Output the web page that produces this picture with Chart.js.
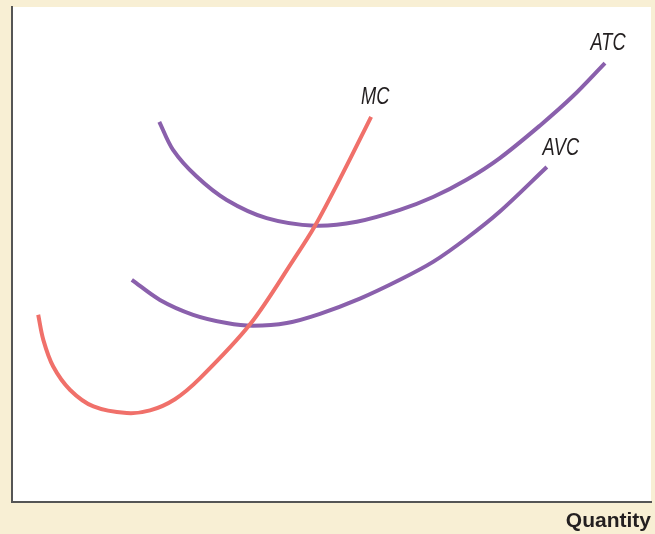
<!DOCTYPE html>
<html>
<head>
<meta charset="utf-8">
<script src="https://cdn.jsdelivr.net/npm/chart.js@4/dist/chart.umd.min.js"></script>
<style>
  html, body { margin: 0; padding: 0; background: #f8efd4; }
  #wrap { width: 655px; height: 534px; }
</style>
</head>
<body>
<div id="wrap"><canvas id="myChart" width="655" height="534"></canvas></div>
<script>
// quantity / cost readings for each curve
var mcQty  = [0.82, 0.98, 1.29, 1.82, 2.55, 3.59, 4.32, 5.10, 5.88, 7.45, 8.80, 9.48, 10.36, 11.24];
var mcCost = [5.67, 4.91, 4.10, 3.39, 2.89, 2.69, 2.77, 3.11, 3.74, 5.38, 7.32, 8.36, 9.97, 11.67];

var atcQty  = [4.61, 5.04, 5.78, 6.72, 7.97, 9.48, 10.79, 12.14, 13.18, 14.24, 15.27, 16.53, 17.56, 18.56];
var atcCost = [11.52, 10.67, 9.86, 9.15, 8.60, 8.37, 8.49, 8.85, 9.24, 9.77, 10.42, 11.41, 12.30, 13.30];

var avcQty  = [3.75, 4.63, 5.67, 6.72, 7.54, 8.60, 9.64, 10.89, 12.14, 13.19, 14.23, 15.27, 16.74];
var avcCost = [6.73, 6.12, 5.67, 5.42, 5.34, 5.42, 5.70, 6.16, 6.73, 7.28, 7.99, 8.80, 10.15];

var curveNames = ["MC", "ATC", "AVC"];
var axisTitle = "Quantity";

var RED = "#f0706a";
var PURPLE = "#8a60ac";

function toPoints(xs, ys) {
    var pts = [];
    for (var i = 0; i < xs.length; i++) {
        pts.push({x: xs[i], y: ys[i]});
    }
    return pts;
}

function makeLine(name, xs, ys, color) {
    return {
        label: name,
        data: toPoints(xs, ys),
        borderColor: color,
        borderWidth: 4,
        borderCapStyle: "butt",
        pointRadius: 0,
        fill: false,
        tension: 0.33
    };
}

// label offsets from the end of each curve
var labelOffset = {
    MC:  [4, -20],
    ATC: [3, -20],
    AVC: [14, -19]
};

var plotBackground = {
    id: "plotBackground",
    beforeDraw: function (chart) {
        var a = chart.chartArea;
        var ctx = chart.ctx;
        ctx.save();
        ctx.fillStyle = "#ffffff";
        ctx.fillRect(a.left, a.top, a.right - a.left, a.bottom - a.top);
        ctx.restore();
    }
};

var curveLabels = {
    id: "curveLabels",
    afterDatasetsDraw: function (chart) {
        var ctx = chart.ctx;
        chart.data.datasets.forEach(function (ds, i) {
            var meta = chart.getDatasetMeta(i);
            var last = meta.data[meta.data.length - 1];
            var off = labelOffset[ds.label];
            ctx.save();
            ctx.translate(last.x + off[0], last.y + off[1]);
            ctx.scale(0.76, 1); // narrow letters like the original
            ctx.font = "italic 24px 'Liberation Sans', sans-serif";
            ctx.fillStyle = "#231f20";
            ctx.textAlign = "center";
            ctx.textBaseline = "middle";
            ctx.fillText(ds.label, 0, 0);
            ctx.restore();
        });
    }
};

var myChart = new Chart(document.getElementById("myChart"), {
    type: "line",
    data: {
        datasets: [
            makeLine(curveNames[0], mcQty, mcCost, RED),
            makeLine(curveNames[1], atcQty, atcCost, PURPLE),
            makeLine(curveNames[2], avcQty, avcCost, PURPLE)
        ]
    },
    options: {
        responsive: false,
        animation: false,
        layout: { padding: { left: 12, top: 7, right: 4, bottom: 0 } },
        plugins: {
            legend: { display: false },
            tooltip: { enabled: false }
        },
        scales: {
            x: {
                type: "linear",
                min: 0,
                max: 20,
                grid: { display: false, drawTicks: false },
                ticks: { display: false },
                border: { display: true, color: "#555555", width: 2 },
                title: {
                    display: true,
                    text: axisTitle,
                    align: "end",
                    color: "#231f20",
                    font: { family: "'Liberation Sans', sans-serif", size: 21, weight: "bold" },
                    padding: { top: 7, bottom: 0 }
                }
            },
            y: {
                type: "linear",
                min: 0,
                max: 15,
                grid: { display: false, drawTicks: false },
                ticks: { display: false },
                border: { display: true, color: "#555555", width: 2 }
            }
        }
    },
    plugins: [plotBackground, curveLabels]
});
</script>
</body>
</html>
